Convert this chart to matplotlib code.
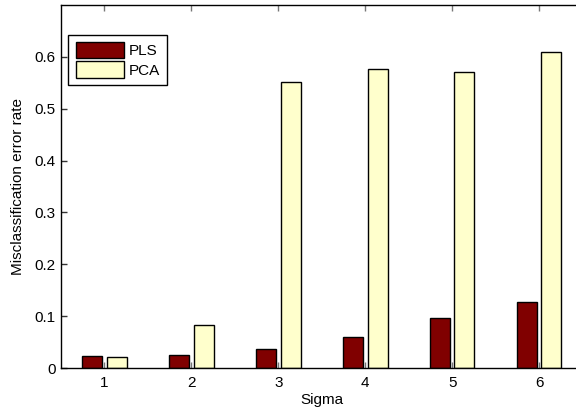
import matplotlib
matplotlib.use("Agg")
import matplotlib.pyplot as plt
import numpy as np

sigma = [1, 2, 3, 4, 5, 6]
pls = [0.024, 0.026, 0.037, 0.059, 0.096, 0.127]
pca = [0.022, 0.082, 0.551, 0.577, 0.571, 0.610]
yticks = [0, 0.1, 0.2, 0.3, 0.4, 0.5, 0.6]
ytick_labels = ["0", "0.1", "0.2", "0.3", "0.4", "0.5", "0.6"]

plt.rcParams['font.family'] = ['Liberation Sans', 'DejaVu Sans']
plt.rcParams['font.size'] = 11

fig = plt.figure(figsize=(5.76, 4.13), dpi=100)
ax = fig.add_axes([61/576, 45/413, 521.5/576, 363/413])

x = np.array(sigma, dtype=float)
w = 0.23
off = 0.142
ax.bar(x - off, pls, width=w, color='#800000', edgecolor='black', linewidth=1.0, label='PLS')
ax.bar(x + off, pca, width=w, color='#FFFFCC', edgecolor='black', linewidth=1.0, label='PCA')

ax.set_xlim(0.5, 6.5)
ax.set_ylim(0, 0.7)
ax.set_xticks(sigma)
ax.set_xticklabels([str(s) for s in sigma])
ax.set_yticks(yticks)
ax.set_yticklabels(ytick_labels)
ax.tick_params(axis='x', direction='in', length=4, width=1, color='#777777', top=True,
               labelsize=11, pad=6)
ax.tick_params(axis='y', direction='in', length=4, width=1, color='#333333', right=True,
               labelsize=11, pad=4)
for s in ax.spines.values():
    s.set_linewidth(1.0)

ax.set_xlabel('Sigma', fontsize=11, labelpad=2)
ax.set_ylabel('Misclassification error rate', fontsize=11, labelpad=6.5)

leg = ax.legend(loc='upper left', bbox_to_anchor=(7/521.5, (368-34.5)/363), borderaxespad=0,
                fancybox=False, edgecolor='black', framealpha=1, handlelength=3.15,
                handleheight=1.25, handletextpad=0.3, borderpad=0.5, labelspacing=0.2,
                fontsize=11)
leg.get_frame().set_linewidth(1.0)

fig.savefig('out.png', dpi=100)
